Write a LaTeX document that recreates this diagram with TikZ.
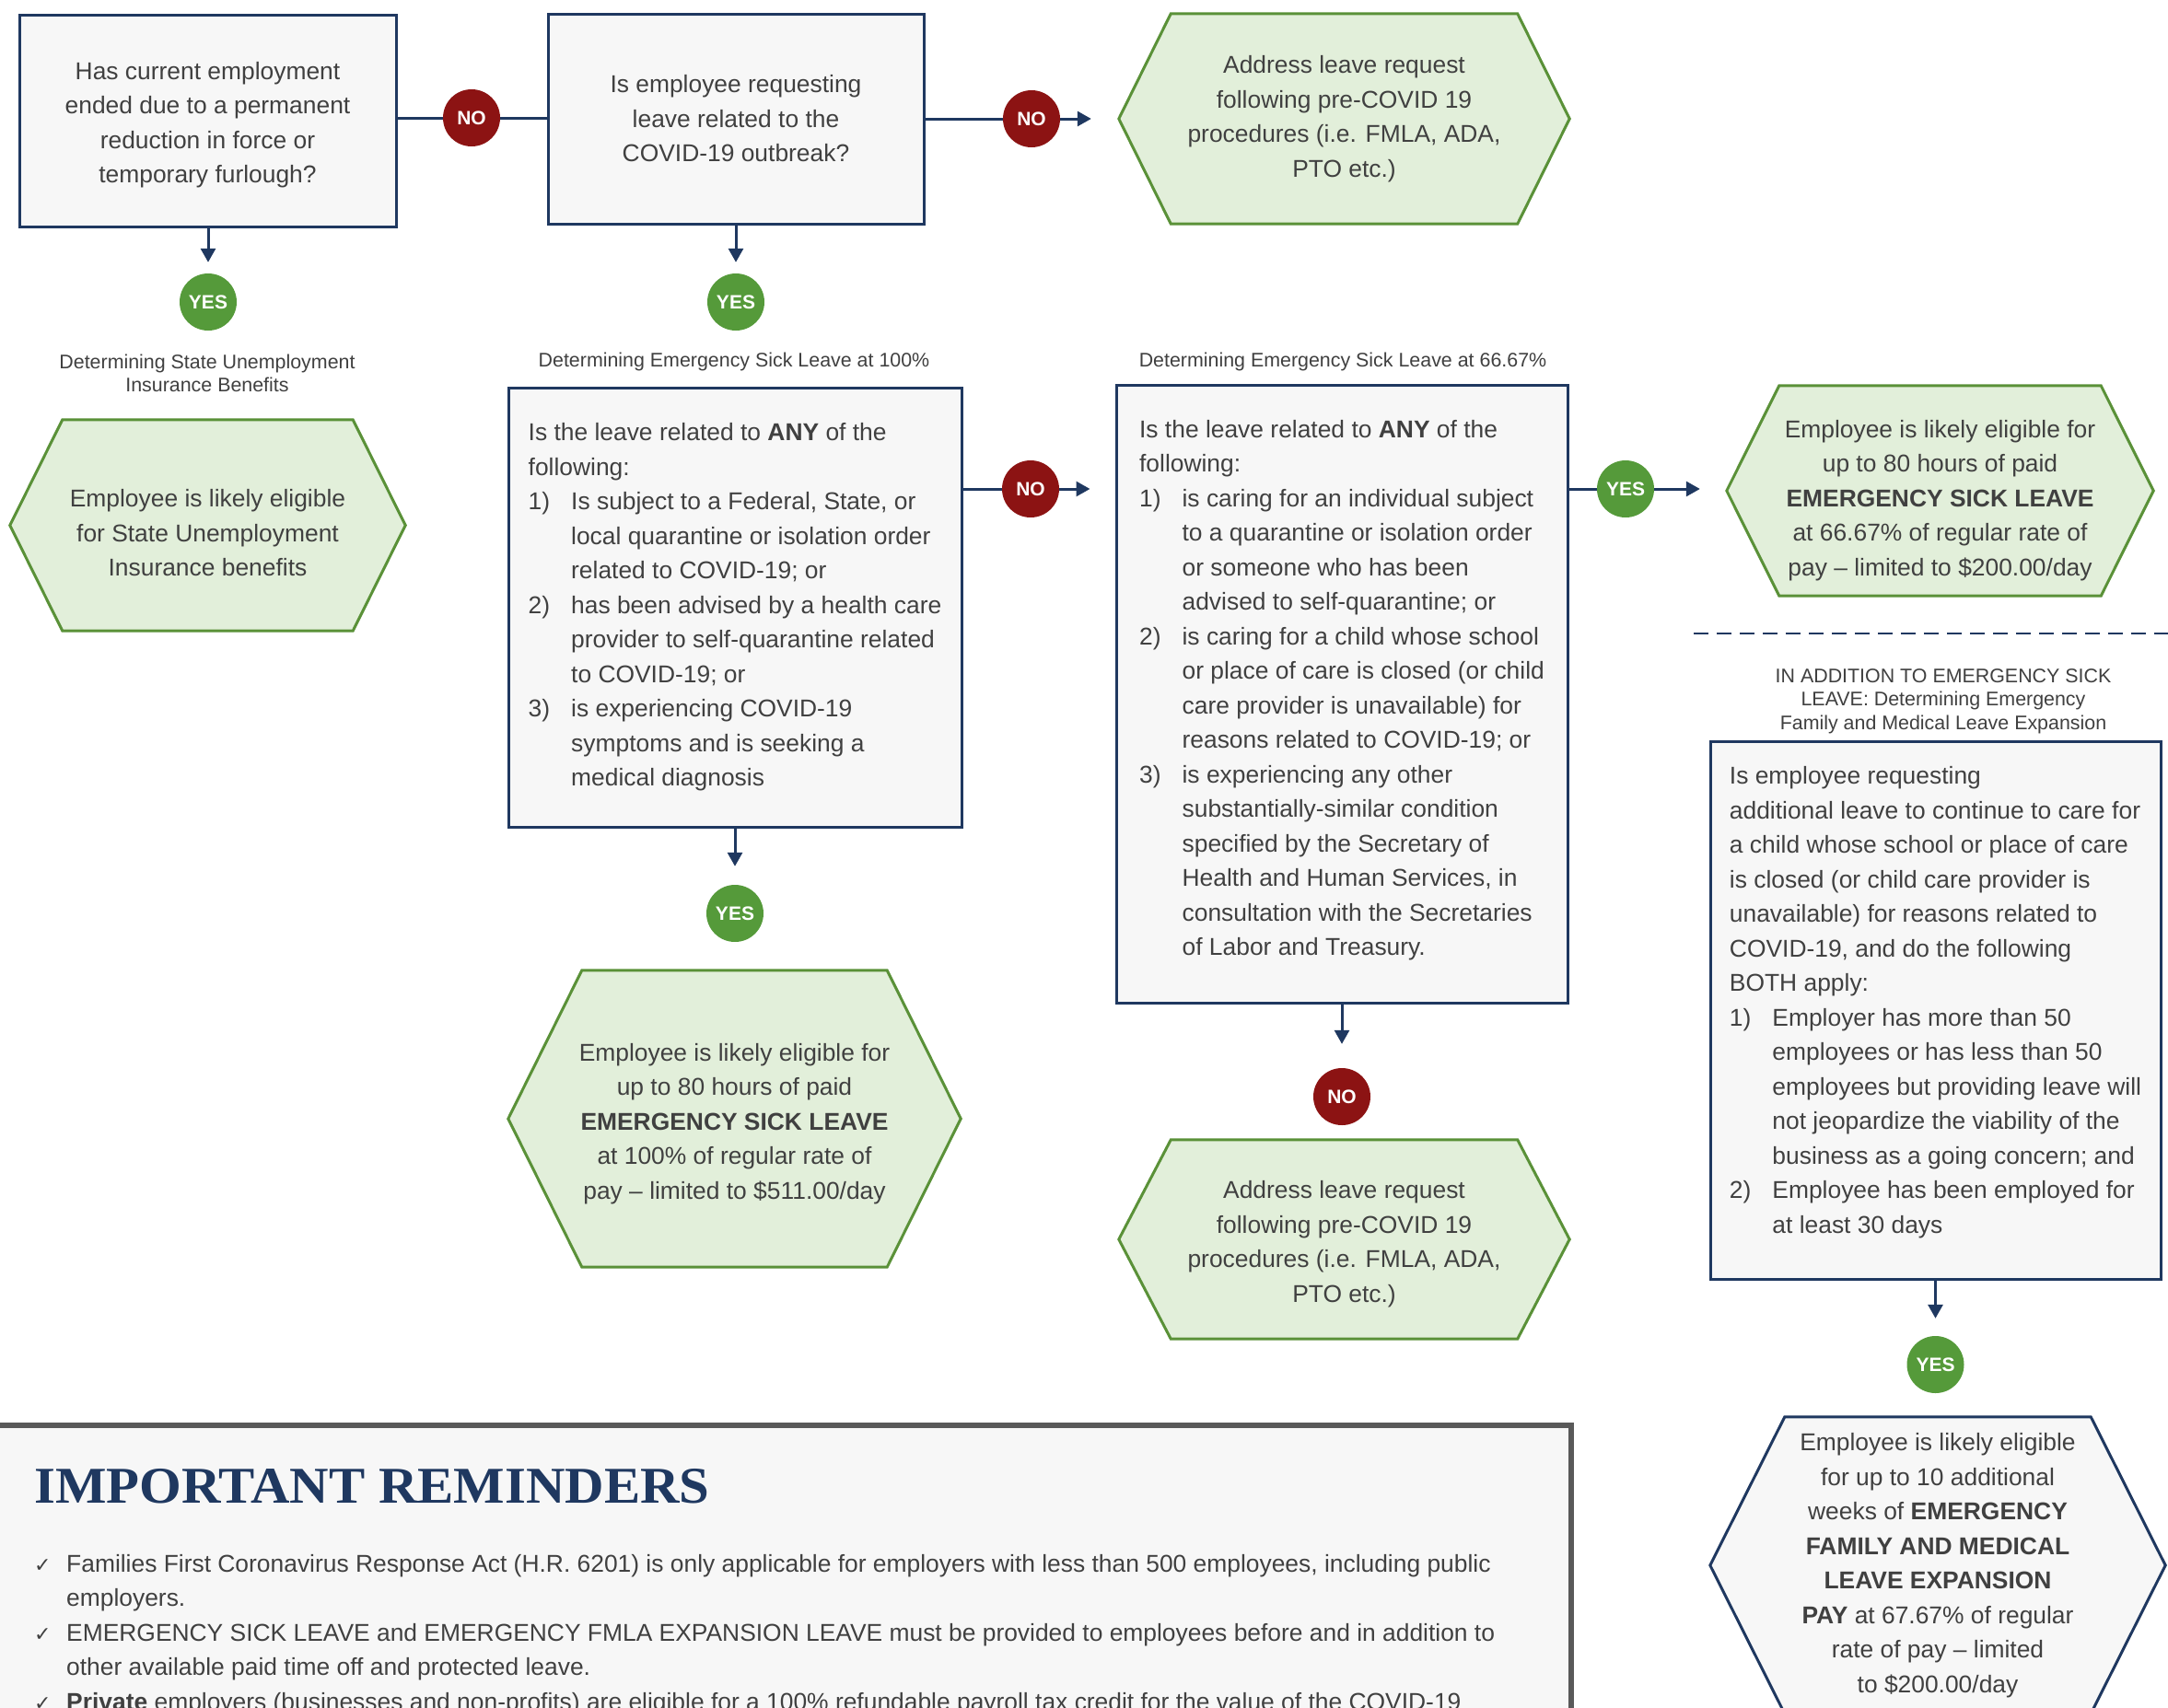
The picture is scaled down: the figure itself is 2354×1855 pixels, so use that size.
\documentclass[tikz,border=0pt]{standalone}
\usepackage{fontspec}
\setmainfont{Liberation Sans}
\newfontfamily\titlefont[FakeStretch=1.05]{Liberation Serif}
\newfontfamily\symfont{DejaVu Sans}
\usetikzlibrary{arrows.meta,backgrounds}

\definecolor{navy}{HTML}{1F3860}
\definecolor{boxgrey}{HTML}{F7F7F7}
\definecolor{textgrey}{HTML}{404040}
\definecolor{hexfill}{HTML}{E2EFDA}
\definecolor{hexline}{HTML}{5A9138}
\definecolor{yesgreen}{HTML}{559A3A}
\definecolor{nored}{HTML}{8C1313}
\definecolor{remgrey}{HTML}{595959}

\newcommand{\maintext}{\fontsize{26.4}{37.5}\selectfont}
\newcommand{\itemno}[1]{\makebox[46.5pt][l]{#1}}
\newcommand{\listind}{\hspace*{46.5pt}}
\newcommand{\chk}{\makebox[35pt][l]{\symfont\fontsize{22}{22}\selectfont ✓}}
% struts that move a centred text block down (padtop) or up (padbot)
\newcommand{\padtop}[1]{\rule{0pt}{#1}}
\newcommand{\padbot}[1]{\rule[-#1]{0pt}{#1}}
% hexagon drawn behind a named node
\newcommand{\hexframe}[3][hexgreen]{%
  \begin{pgfonlayer}{background}
    \path[#1] (#2.west) -- ([xshift=#3]#2.north west) -- ([xshift=-#3]#2.north east)
      -- (#2.east) -- ([xshift=-#3]#2.south east) -- ([xshift=#3]#2.south west) -- cycle;
  \end{pgfonlayer}}

\begin{document}
\begin{tikzpicture}[x=1pt,y=-1pt,
  every node/.style={text=textgrey},
  qbox/.style={draw=navy,fill=boxgrey,line width=3pt,inner sep=0pt,font=\maintext},
  hexnode/.style={inner sep=0pt,align=center,font=\maintext},
  hexgreen/.style={draw=hexline,fill=hexfill,line width=3pt},
  hexnavy/.style={draw=navy,fill=boxgrey,line width=3pt},
  yes/.style={circle,fill=yesgreen,text=white,font=\bfseries\fontsize{21}{21}\selectfont,
    minimum size=62pt,inner sep=0pt},
  no/.style={yes,fill=nored},
  link/.style={draw=navy,line width=3pt},
  arr/.style={link,-{Triangle[length=15pt,width=16pt]}},
  caption/.style={font=\fontsize{21.4}{25.5}\selectfont,align=center,inner sep=0pt}]
  \useasboundingbox (0,0) rectangle (2354,1855);
  \begin{pgfonlayer}{background}
    \fill[white] (0,0) rectangle (2354,1855);
  \end{pgfonlayer}

  % first row
  \node[qbox,minimum width=409pt,minimum height=230pt,align=center] (ended) at (225.5,131)
    {\padtop{28pt}Has current employment\\ended due to a permanent\\reduction in force or\\temporary furlough?};
  \node[qbox,minimum width=408pt,minimum height=228pt,align=center] (covid) at (799,129)
    {Is employee requesting\\leave related to the\\COVID-19 outbreak?};
  \node[hexnode,minimum width=489pt,minimum height=228pt] (addr1) at (1459.5,129)
    {Address leave request\\following pre-COVID 19\\procedures (i.e. FMLA, ADA,\\PTO etc.)};
  \hexframe{addr1}{56.5pt}
  \node[no] (no1) at (512,128) {NO};
  \node[no] (no2) at (1120,129) {NO};
  \node[yes] (yes1) at (226,328) {YES};
  \node[yes] (yes2) at (799,328) {YES};

  \draw[link] (ended.east |- no1) -- (no1);
  \draw[link] (no1) -- (covid.west |- no1);
  \draw[link] (covid) -- (no2);
  \draw[arr,shorten >=30pt] (no2) -- (addr1);
  \draw[arr,shorten >=12pt] (ended.south -| yes1) -- (yes1);
  \draw[arr,shorten >=12pt] (covid) -- (yes2);

  % captions
  \node[caption] (capui) at (225,405.5) {Determining State Unemployment\\Insurance Benefits};
  \node[caption] (cap100) at (797,393) {Determining Emergency Sick Leave at 100\%};
  \node[caption] (cap66) at (1458,393) {Determining Emergency Sick Leave at 66.67\%};

  % state unemployment
  \node[hexnode,minimum width=429pt,minimum height=229pt] (stateui) at (225.5,570.5)
    {\padtop{36pt}Employee is likely eligible\\for State Unemployment\\Insurance benefits};
  \hexframe{stateui}{57pt}

  % sick leave at 100%
  \node[qbox,minimum width=492pt,minimum height=477pt,align=left] (sick100) at (798,659.5)
    {Is the leave related to \textbf{ANY} of the\\following:\\
     \itemno{1)}Is subject to a Federal, State, or\\
     \listind local quarantine or isolation order\\
     \listind related to COVID-19; or\\
     \itemno{2)}has been advised by a health care\\
     \listind provider to self-quarantine related\\
     \listind to COVID-19; or\\
     \itemno{3)}is experiencing COVID-19\\
     \listind symptoms and is seeking a\\
     \listind medical diagnosis};
  \node[no] (no3) at (1119,531) {NO};
  \node[yes] (yes4) at (798,992) {YES};
  \node[hexnode,minimum width=491pt,minimum height=322pt] (paid100) at (797.5,1215)
    {\padtop{30pt}Employee is likely eligible for\\up to 80 hours of paid\\\textbf{EMERGENCY SICK LEAVE}\\
     at 100\% of regular rate of\\pay – limited to \$511.00/day};
  \hexframe{paid100}{80pt}

  % sick leave at 66.67%
  \node[qbox,minimum width=490pt,minimum height=671pt,align=left] (sick66q) at (1457,753.5)
    {Is the leave related to \textbf{ANY} of the\\following:\\
     \itemno{1)}is caring for an individual subject\\
     \listind to a quarantine or isolation order\\
     \listind or someone who has been\\
     \listind advised to self-quarantine; or\\
     \itemno{2)}is caring for a child whose school\\
     \listind or place of care is closed (or child\\
     \listind care provider is unavailable) for\\
     \listind reasons related to COVID-19; or\\
     \itemno{3)}is experiencing any other\\
     \listind substantially-similar condition\\
     \listind specified by the Secretary of\\
     \listind Health and Human Services, in\\
     \listind consultation with the Secretaries\\
     \listind of Labor and Treasury.\padbot{13pt}};
  \node[yes] (yes3) at (1765,531) {YES};
  \node[no] (no4) at (1457,1191) {NO};
  \node[hexnode,minimum width=463pt,minimum height=228pt] (paid66) at (2106.5,533)
    {\padtop{40pt}Employee is likely eligible for\\up to 80 hours of paid\\\textbf{EMERGENCY SICK LEAVE}\\
     at 66.67\% of regular rate of\\pay – limited to \$200.00/day};
  \hexframe{paid66}{57pt}
  \node[hexnode,minimum width=489pt,minimum height=216pt] (addr2) at (1459.5,1346)
    {\padtop{29.5pt}Address leave request\\following pre-COVID 19\\procedures (i.e. FMLA, ADA,\\PTO etc.)};
  \hexframe{addr2}{56.5pt}

  \draw[link] (sick100.east |- no3) -- (no3);
  \draw[arr,shorten >=27pt] (no3) -- (sick66q.west |- no3);
  \draw[link] (sick66q.east |- yes3) -- (yes3);
  \draw[arr,shorten >=29pt] (yes3) -- (paid66.west |- yes3);
  \draw[arr,shorten >=20pt] (sick100) -- (yes4);
  \draw[arr,shorten >=26pt] (sick66q) -- (no4);

  % family and medical leave expansion
  \coordinate (sepL) at (1839,688);
  \coordinate (sepR) at (2354,688);
  \draw[link,line width=2.5pt,dash pattern=on 16pt off 9pt] (sepL) -- (sepR);
  \node[caption] (capfmla) at (2110,761.5)
    {IN ADDITION TO EMERGENCY SICK\\LEAVE: Determining Emergency\\Family and Medical Leave Expansion};
  \node[qbox,minimum width=489pt,minimum height=584pt,align=left] (fmlaq) at (2101.5,1097)
    {Is employee requesting\\additional leave to continue to care for\\
     a child whose school or place of care\\is closed (or child care provider is\\
     unavailable) for reasons related to\\COVID-19, and do the following\\BOTH apply:\\
     \itemno{1)}Employer has more than 50\\
     \listind employees or has less than 50\\
     \listind employees but providing leave will\\
     \listind not jeopardize the viability of the\\
     \listind business as a going concern; and\\
     \itemno{2)}Employee has been employed for\\
     \listind at least 30 days\padbot{22pt}};
  \node[yes] (yes5) at (2101.5,1482) {YES};
  \node[hexnode,minimum width=494pt,minimum height=322pt] (fmlapay) at (2104,1700)
    {Employee is likely eligible\\for up to 10 additional\\weeks of \textbf{EMERGENCY}\\
     \textbf{FAMILY AND MEDICAL}\\\textbf{LEAVE EXPANSION}\\
     \textbf{PAY} at 67.67\% of regular\\rate of pay – limited\\to \$200.00/day};
  \hexframe[hexnavy]{fmlapay}{81pt}
  \draw[arr,shorten >=19pt] (fmlaq) -- (yes5);

  % reminders
  \node[draw=remgrey,fill=boxgrey,line width=6pt,minimum width=1723pt,minimum height=400pt,
    anchor=north west,inner sep=0pt] (remind) at (-20,1545) {};
  \node[anchor=base west,inner sep=0pt,text=navy,
    font=\titlefont\bfseries\fontsize{56}{56}\selectfont] (remtitle) at (37,1632)
    {IMPORTANT REMINDERS};
  \node[anchor=north west,inner sep=0pt,align=left,font=\maintext] (remlist) at (37,1688)
    {\chk Families First Coronavirus Response Act (H.R. 6201) is only applicable for employers with less than 500 employees, including public\\
     \hspace*{35pt}employers.\\
     \chk EMERGENCY SICK LEAVE and EMERGENCY FMLA EXPANSION LEAVE must be provided to employees before and in addition to\\
     \hspace*{35pt}other available paid time off and protected leave.\\
     \chk \textbf{Private} employers (businesses and non-profits) are eligible for a 100\% refundable payroll tax credit for the value of the COVID-19};
\end{tikzpicture}
\end{document}
